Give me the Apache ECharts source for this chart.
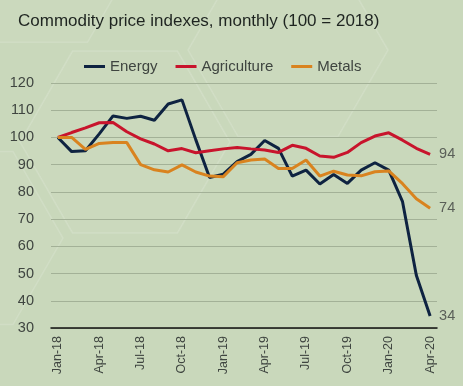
<!DOCTYPE html>
<html><head><meta charset="utf-8">
<script src="https://cdn.jsdelivr.net/npm/echarts@6/dist/echarts.min.js"></script>
<style>html,body{margin:0;padding:0;background:#c9d8bb;}#c{width:463px;height:386px;}</style>
</head><body><div id="c"></div>
<script>
var months = ['Jan-18','Feb-18','Mar-18','Apr-18','May-18','Jun-18','Jul-18','Aug-18','Sep-18','Oct-18','Nov-18','Dec-18',
  'Jan-19','Feb-19','Mar-19','Apr-19','May-19','Jun-19','Jul-19','Aug-19','Sep-19','Oct-19','Nov-19','Dec-19',
  'Jan-20','Feb-20','Mar-20','Apr-20'];
var energy = [100, 94.8, 95.1, 101.3, 107.9, 107, 107.8, 106.3, 112.3, 113.8, 99.2, 85.3,
  86.5, 91.1, 93.8, 98.9, 96, 85.8, 88, 82.9, 86.4, 83.1, 88, 90.7, 88, 76.4, 49.4, 34.4];
var agriculture = [100, 101.8, 103.5, 105.4, 105.5, 102.1, 99.5, 97.6, 95.1, 95.9, 94.4, 95.1,
  95.8, 96.3, 95.8, 95.4, 94.5, 97.1, 96, 93.2, 92.7, 94.5, 98.1, 100.5, 101.7, 99, 96, 93.8];
var metals = [100, 100, 95.6, 97.8, 98.1, 98.1, 90, 88.1, 87.3, 89.9, 87.3, 85.8,
  85.6, 90.7, 91.7, 92.1, 88.6, 88.6, 91.7, 85.8, 87.6, 86.2, 85.9, 87.4, 87.7, 83, 77.5, 74];
var titleText = 'Commodity price indexes, monthly (100 = 2018)';
var seriesNames = ['Energy', 'Agriculture', 'Metals'];
var colors = ['#0e2341', '#c8142c', '#d9831f'];

// decorative background hexagons (centre x, centre y, radius)
var hexes = [[125, 142, 105], [288, 50, 100], [-37, 238, 100], [40, -40, 95]];
function hexPoints(cx, cy, r) {
  var pts = [];
  for (var i = 0; i < 6; i++) {
    var a = Math.PI / 3 * i;
    pts.push([cx + r * Math.cos(a), cy + r * Math.sin(a)]);
  }
  return pts;
}
var graphics = hexes.map(function (h) {
  return {type: 'polygon', silent: true, z: -10,
    shape: {points: hexPoints(h[0], h[1], h[2])},
    style: {fill: 'rgba(255,255,255,0.04)', stroke: 'rgba(255,255,255,0.14)', lineWidth: 1.5}};
});

var chart = echarts.init(document.getElementById('c'));
function mk(name, data, color) {
  return {
    name: name, type: 'line', data: data, symbol: 'none',
    lineStyle: {width: 3, color: color}, itemStyle: {color: color},
    endLabel: {show: true, formatter: function(p){return Math.round(p.value);}, color: '#5a5f58',
      fontSize: 14.5, fontFamily: 'Liberation Sans', distance: 9}
  };
}
chart.setOption({
  backgroundColor: '#c9d8bb',
  textStyle: {fontFamily: 'Liberation Sans'},
  graphic: graphics,
  title: {text: titleText, left: 13, top: 8,
    textStyle: {fontSize: 17, fontWeight: 'normal', color: '#1e2420', fontFamily: 'Liberation Sans'}},
  legend: {left: 79, top: 54, itemWidth: 21, itemHeight: 3, itemGap: 18, icon: 'rect',
    textStyle: {fontSize: 15, color: '#3f4540'},
    data: seriesNames},
  grid: {left: 51, right: 26, top: 83, bottom: 58},
  xAxis: {type: 'category', data: months, boundaryGap: true,
    axisLine: {lineStyle: {color: '#111', width: 1.5}},
    axisTick: {interval: 2, length: 4, lineStyle: {color: '#111', width: 1.5}},
    axisLabel: {interval: 2, rotate: 90, fontSize: 12.5, color: '#3f4540', margin: 8}},
  yAxis: {type: 'value', min: 30, max: 120, interval: 10,
    axisLine: {show: false}, axisTick: {show: false},
    axisLabel: {fontSize: 14.5, color: '#3f4540', margin: 17},
    splitLine: {lineStyle: {color: '#a3b197', width: 1}}},
  series: [mk(seriesNames[0], energy, colors[0]), mk(seriesNames[1], agriculture, colors[1]), mk(seriesNames[2], metals, colors[2])]
});
</script></body></html>
